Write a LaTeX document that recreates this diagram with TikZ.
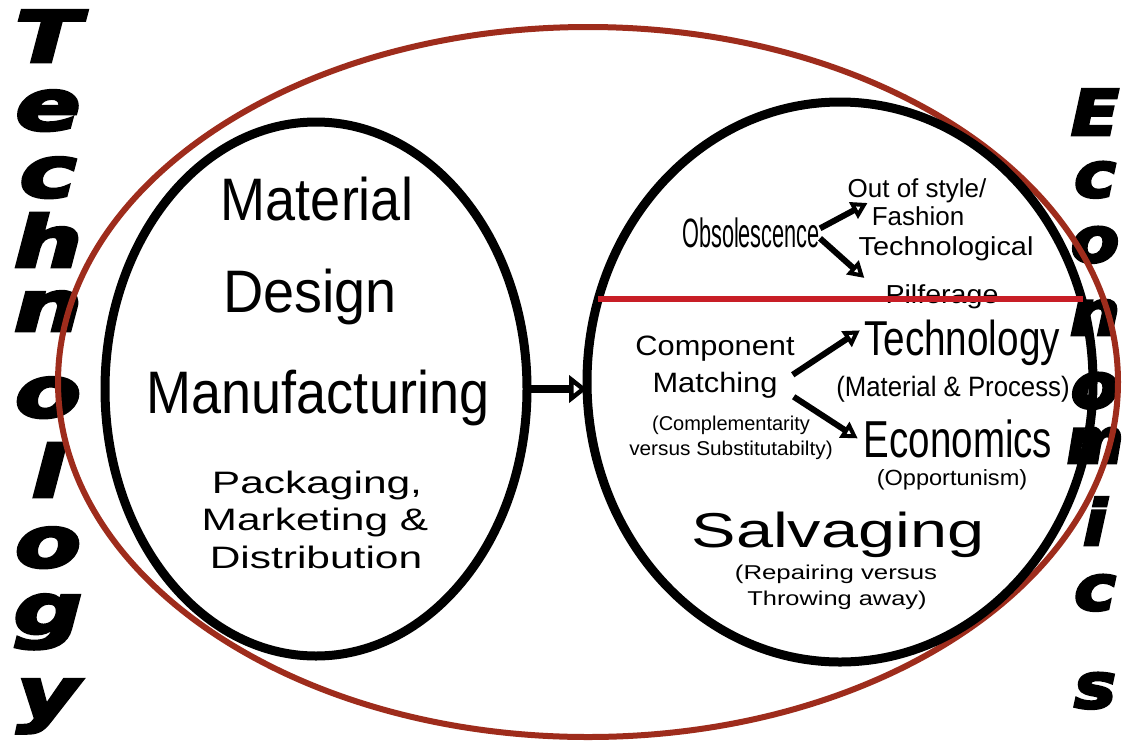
\documentclass[tikz,border=0pt]{standalone}
\usepackage{graphicx}
\usepackage{fontspec}
\setmainfont{Liberation Sans}
\newfontfamily\blockfont{DejaVu Sans}[BoldItalicFeatures={FakeBold=4}]
\usetikzlibrary{shapes.geometric, arrows.meta}

\definecolor{rust}{RGB}{158,44,28}
\definecolor{cutred}{RGB}{200,30,38}

% squeeze or stretch a word sideways
\newcommand{\squeeze}[2]{\scalebox{#1}[1]{#2}}

\tikzset{
  blob/.style={ellipse, draw, line width=9pt, inner sep=0pt, outer sep=0pt},
  ring/.style={ellipse, draw=rust, line width=6pt, inner sep=0pt, outer sep=0pt},
  txt/.style={inner sep=0pt, anchor=base},
  tall/.style={inner sep=0pt, anchor=base, font=\blockfont\bfseries\itshape\fontsize{#1}{#1}\selectfont},
  flow/.style={-{Triangle[open, length=18pt, width=27pt]}, line width=8pt},
  branch/.style={-{Triangle[open, length=16pt, width=18pt]}, line width=6pt},
  cutline/.style={draw=cutred, line width=5.5pt},
}

\begin{document}
\begin{tikzpicture}[x=1pt, y=-1pt]

\fill[white] (0,0) rectangle (1125,740);
\useasboundingbox (0,0) rectangle (1125,740);

% words running down both sides
\foreach \ch/\yb [count=\i] in {T/62, e/130, c/197, h/267, n/331, o/417, l/497, o/567, g/634, y/718}
  \node[tall=71] (tl\i) at (48,\yb) {\squeeze{1.35}{\ch}};
\foreach \ch/\yb/\sx [count=\i] in {E/135/1.12, c/197/1.12, o/262/1.12, n/335/1.12, o/408/1.12, m/463/0.86, i/545/1.12, c/610/1.12, s/708/1.12}
  \node[tall=63] (tr\i) at (1095,\yb) {\squeeze{\sx}{\ch}};

% the outer cycle and the two stages
\node[ring, minimum width=1060pt, minimum height=710pt] (cycle) at (588,382) {};
\node[blob, minimum width=422pt, minimum height=534pt] (stages) at (316,389) {};
\node[blob, minimum width=506pt, minimum height=560pt] (fate) at (840,382) {};

\draw[flow] (stages.east) -- (stages.east -| fate.west);

% left: making the product
\node[txt, font=\fontsize{60}{66}\selectfont] (material) at (317,220) {\squeeze{0.9}{Material}};
\node[txt, font=\fontsize{60}{66}\selectfont] (design) at (310,312) {\squeeze{0.93}{Design}};
\node[txt, font=\fontsize{60}{66}\selectfont] (manuf) at (318,413) {\squeeze{0.9}{Manufacturing}};
\node[txt, font=\fontsize{31}{34}\selectfont] (pack) at (317,493) {\squeeze{1.37}{Packaging,}};
\node[txt, font=\fontsize{31}{34}\selectfont] (market) at (315,530) {\squeeze{1.37}{Marketing \&}};
\node[txt, font=\fontsize{31}{34}\selectfont] (distrib) at (316,568) {\squeeze{1.37}{Distribution}};

% right, upper part
\node[txt, font=\fontsize{41}{45}\selectfont] (obs) at (751,247) {\squeeze{0.53}{Obsolescence}};
\node[txt, font=\fontsize{26}{28}\selectfont] (style) at (917,197) {Out of style/};
\node[txt, font=\fontsize{26}{28}\selectfont] (fash) at (918,225) {Fashion};
\node[txt, font=\fontsize{26}{28}\selectfont] (techl) at (946,255) {\squeeze{1.11}{Technological}};
\node[txt, font=\fontsize{26}{28}\selectfont] (pilf) at (942,303) {\squeeze{1.1}{Pilferage}};

\draw[branch] ([yshift=4pt]obs.east) -- ([xshift=-4pt,yshift=3pt]fash.north west);
\draw[branch] ([yshift=-6pt]obs.east) -- ([xshift=-21pt,yshift=6pt]pilf.north west);

% right, lower part
\node[txt, font=\fontsize{28}{30}\selectfont] (comp) at (715,355) {\squeeze{1.1}{Component}};
\node[txt, font=\fontsize{28}{30}\selectfont] (match) at (715,392) {\squeeze{1.1}{Matching}};
\node[txt, font=\fontsize{20}{22}\selectfont] (compl) at (731,430) {(Complementarity};
\node[txt, font=\fontsize{20}{22}\selectfont] (vers) at (731,455) {\squeeze{1.04}{versus Substitutabilty)}};
\node[txt, font=\fontsize{49}{52}\selectfont] (tech) at (962,355) {\squeeze{0.79}{Technology}};
\node[txt, font=\fontsize{28}{30}\selectfont] (matproc) at (953,396) {\squeeze{0.92}{(Material \& Process)}};
\node[txt, font=\fontsize{52}{56}\selectfont] (econ) at (958,457) {\squeeze{0.74}{Economics}};
\node[txt, font=\fontsize{22}{24}\selectfont] (opp) at (952,485) {\squeeze{1.07}{(Opportunism)}};

\draw[branch] ([xshift=15pt,yshift=10pt]match.east) -- ([xshift=-4pt,yshift=12pt]tech.west);
\draw[branch] ([xshift=16pt,yshift=-12pt]match.east) -- ([xshift=-6pt]econ.west);

\node[txt, font=\fontsize{49}{52}\selectfont] (salv) at (838,547) {\squeeze{1.36}{Salvaging}};
\node[txt, font=\fontsize{20}{22}\selectfont] (rep) at (836,579) {\squeeze{1.29}{(Repairing versus}};
\node[txt, font=\fontsize{20}{22}\selectfont] (throw) at (837,605) {\squeeze{1.27}{Throwing away)}};

% dividing line across the right stage
\draw[cutline] (fate.161.5) -- (fate.18.5 |- fate.161.5);

\end{tikzpicture}
\end{document}
